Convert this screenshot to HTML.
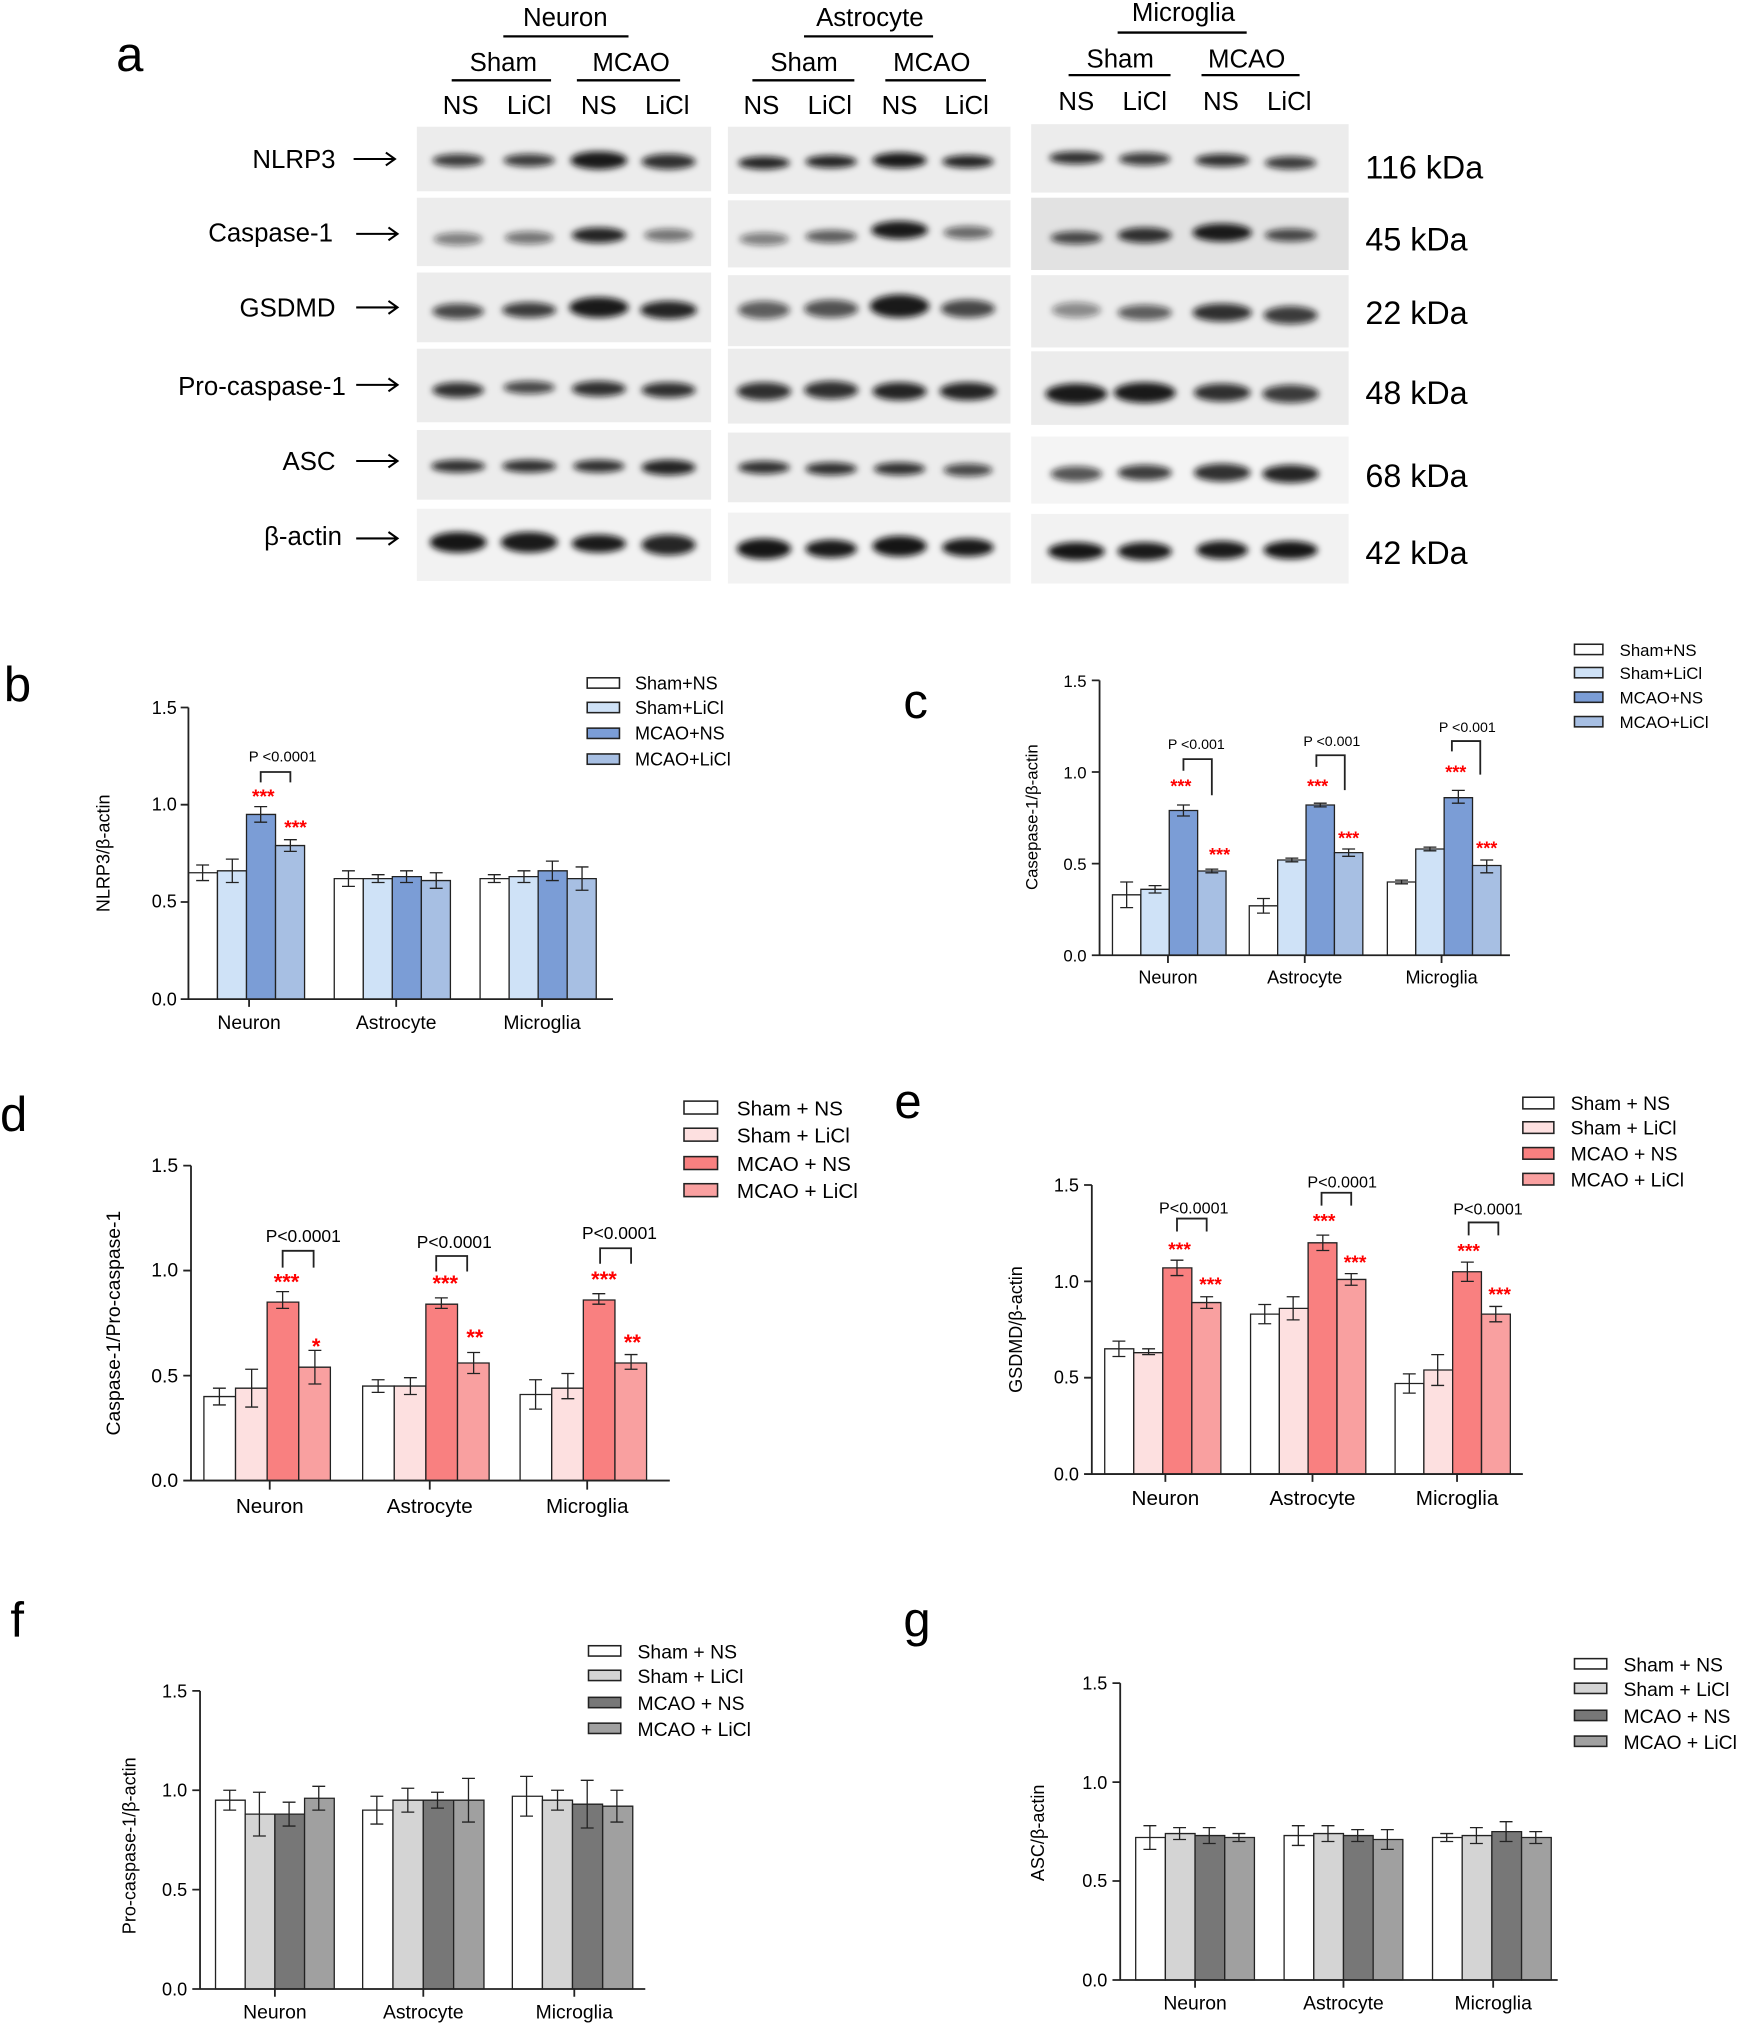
<!DOCTYPE html>
<html><head><meta charset="utf-8"><style>
html,body{margin:0;padding:0;background:#fff}
svg{display:block}
text{font-family:"Liberation Sans",Arial,sans-serif;fill:#000}
.b rect{stroke:#222;vector-effect:non-scaling-stroke;stroke-width:1.3}
.b path{stroke:#222;fill:none;vector-effect:non-scaling-stroke;stroke-width:1.3}
.ax{stroke:#222;stroke-width:1.4;fill:none}
.st, .st text{fill:#f00;font-weight:bold}
.lg rect{stroke:#222;stroke-width:1.2}
.arr{stroke:#000;stroke-width:1.6;fill:none}
</style></head><body>
<svg width="1750" height="2028" viewBox="0 0 1356 1571" xmlns="http://www.w3.org/2000/svg">
<defs><filter id="bl" x="-50%" y="-100%" width="200%" height="300%"><feGaussianBlur stdDeviation="2.5"/></filter></defs>
<rect width="1356" height="1571" fill="#fff"/>
<!-- Panel a -->
<text x="90" y="55" font-size="38">a</text>
<g font-size="20" text-anchor="middle">
<text x="438" y="20">Neuron</text><text x="674" y="20">Astrocyte</text><text x="917" y="16">Microglia</text>
<text x="390" y="55">Sham</text><text x="489" y="55">MCAO</text>
<text x="623" y="55">Sham</text><text x="722" y="55">MCAO</text>
<text x="868" y="52">Sham</text><text x="966" y="52">MCAO</text>
<text x="357" y="88">NS</text><text x="410" y="88">LiCl</text><text x="464" y="88">NS</text><text x="517" y="88">LiCl</text>
<text x="590" y="88">NS</text><text x="643" y="88">LiCl</text><text x="697" y="88">NS</text><text x="749" y="88">LiCl</text>
<text x="834" y="85">NS</text><text x="887" y="85">LiCl</text><text x="946" y="85">NS</text><text x="999" y="85">LiCl</text>
</g>
<g stroke="#000" stroke-width="1.8">
<line x1="390" y1="28" x2="487" y2="28"/><line x1="623" y1="28" x2="723" y2="28"/><line x1="866" y1="25" x2="966" y2="25"/>
<line x1="350" y1="62" x2="427" y2="62"/><line x1="447" y1="62" x2="527" y2="62"/>
<line x1="583" y1="62" x2="662" y2="62"/><line x1="686" y1="62" x2="764" y2="62"/>
<line x1="828" y1="58" x2="907" y2="58"/><line x1="931" y1="58" x2="1007" y2="58"/>
</g>
<g fill="#ececec">
<rect x="323" y="98" width="228" height="50"/><rect x="323" y="153" width="228" height="53"/><rect x="323" y="211" width="228" height="54"/><rect x="323" y="270" width="228" height="57"/><rect x="323" y="333" width="228" height="54"/><rect x="323" y="394" width="228" height="56" fill="#f2f2f2"/>
<rect x="564" y="98" width="219" height="52"/><rect x="564" y="155" width="219" height="52"/><rect x="564" y="213" width="219" height="55"/><rect x="564" y="270" width="219" height="58"/><rect x="564" y="335" width="219" height="54"/><rect x="564" y="397" width="219" height="55" fill="#f2f2f2"/>
<rect x="799" y="96" width="246" height="53"/><rect x="799" y="153" width="246" height="56" fill="#e2e2e2"/><rect x="799" y="213" width="246" height="56"/><rect x="799" y="272" width="246" height="57"/><rect x="799" y="338" width="246" height="52" fill="#f4f4f4"/><rect x="799" y="398" width="246" height="54" fill="#f2f2f2"/>
</g>
<g fill="#111" filter="url(#bl)">
<ellipse cx="355" cy="124" rx="20" ry="5" opacity=".8"/><ellipse cx="410" cy="124" rx="20" ry="5" opacity=".8"/><ellipse cx="464" cy="124" rx="22" ry="7" opacity=".95"/><ellipse cx="518" cy="125" rx="21" ry="6" opacity=".85"/>
<ellipse cx="592" cy="126" rx="20" ry="5" opacity=".9"/><ellipse cx="644" cy="125" rx="20" ry="5" opacity=".9"/><ellipse cx="697" cy="124" rx="21" ry="6" opacity=".95"/><ellipse cx="750" cy="125" rx="20" ry="5" opacity=".9"/>
<ellipse cx="834" cy="122" rx="21" ry="5" opacity=".85"/><ellipse cx="887" cy="123" rx="20" ry="5" opacity=".8"/><ellipse cx="947" cy="124" rx="21" ry="5" opacity=".85"/><ellipse cx="1000" cy="126" rx="20" ry="5" opacity=".8"/>
<ellipse cx="355" cy="185" rx="19" ry="5" opacity=".5"/><ellipse cx="410" cy="184" rx="19" ry="5" opacity=".55"/><ellipse cx="464" cy="182" rx="21" ry="6" opacity=".9"/><ellipse cx="518" cy="182" rx="19" ry="5" opacity=".55"/>
<ellipse cx="592" cy="185" rx="19" ry="5" opacity=".5"/><ellipse cx="644" cy="183" rx="20" ry="5" opacity=".65"/><ellipse cx="697" cy="178" rx="22" ry="7" opacity=".95"/><ellipse cx="750" cy="180" rx="19" ry="5" opacity=".6"/>
<ellipse cx="834" cy="184" rx="20" ry="5" opacity=".75"/><ellipse cx="887" cy="182" rx="21" ry="6" opacity=".85"/><ellipse cx="947" cy="180" rx="23" ry="7" opacity=".95"/><ellipse cx="1000" cy="182" rx="20" ry="5" opacity=".75"/>
<ellipse cx="355" cy="241" rx="20" ry="6" opacity=".75"/><ellipse cx="410" cy="240" rx="21" ry="6" opacity=".8"/><ellipse cx="464" cy="238" rx="23" ry="8" opacity=".95"/><ellipse cx="518" cy="240" rx="22" ry="7" opacity=".9"/>
<ellipse cx="592" cy="240" rx="20" ry="7" opacity=".65"/><ellipse cx="644" cy="239" rx="21" ry="7" opacity=".7"/><ellipse cx="697" cy="237" rx="23" ry="9" opacity=".95"/><ellipse cx="750" cy="239" rx="21" ry="7" opacity=".75"/>
<ellipse cx="834" cy="240" rx="19" ry="6" opacity=".45"/><ellipse cx="887" cy="242" rx="21" ry="6" opacity=".65"/><ellipse cx="947" cy="242" rx="23" ry="7" opacity=".85"/><ellipse cx="1000" cy="244" rx="21" ry="7" opacity=".8"/>
<ellipse cx="355" cy="302" rx="20" ry="6" opacity=".85"/><ellipse cx="410" cy="300" rx="20" ry="5" opacity=".75"/><ellipse cx="464" cy="301" rx="21" ry="6" opacity=".85"/><ellipse cx="518" cy="302" rx="21" ry="6" opacity=".85"/>
<ellipse cx="592" cy="303" rx="21" ry="7" opacity=".85"/><ellipse cx="644" cy="302" rx="21" ry="7" opacity=".85"/><ellipse cx="697" cy="303" rx="21" ry="7" opacity=".9"/><ellipse cx="750" cy="303" rx="22" ry="7" opacity=".9"/>
<ellipse cx="834" cy="305" rx="24" ry="8" opacity=".95"/><ellipse cx="887" cy="304" rx="24" ry="8" opacity=".95"/><ellipse cx="947" cy="304" rx="22" ry="7" opacity=".85"/><ellipse cx="1000" cy="305" rx="22" ry="7" opacity=".8"/>
<ellipse cx="355" cy="361" rx="21" ry="5" opacity=".85"/><ellipse cx="410" cy="361" rx="21" ry="5" opacity=".85"/><ellipse cx="464" cy="361" rx="20" ry="5" opacity=".85"/><ellipse cx="518" cy="362" rx="21" ry="6" opacity=".9"/>
<ellipse cx="592" cy="362" rx="20" ry="5" opacity=".85"/><ellipse cx="644" cy="363" rx="20" ry="5" opacity=".85"/><ellipse cx="697" cy="363" rx="20" ry="5" opacity=".85"/><ellipse cx="750" cy="364" rx="19" ry="5" opacity=".75"/>
<ellipse cx="834" cy="367" rx="20" ry="6" opacity=".7"/><ellipse cx="887" cy="366" rx="21" ry="6" opacity=".8"/><ellipse cx="947" cy="366" rx="22" ry="7" opacity=".85"/><ellipse cx="1000" cy="367" rx="22" ry="7" opacity=".9"/>
<ellipse cx="355" cy="420" rx="22" ry="8" opacity=".97"/><ellipse cx="410" cy="420" rx="22" ry="8" opacity=".95"/><ellipse cx="464" cy="421" rx="21" ry="7" opacity=".95"/><ellipse cx="518" cy="422" rx="21" ry="8" opacity=".9"/>
<ellipse cx="592" cy="425" rx="21" ry="8" opacity=".97"/><ellipse cx="644" cy="425" rx="20" ry="7" opacity=".95"/><ellipse cx="697" cy="423" rx="21" ry="8" opacity=".97"/><ellipse cx="750" cy="424" rx="20" ry="7" opacity=".95"/>
<ellipse cx="834" cy="427" rx="22" ry="7" opacity=".97"/><ellipse cx="887" cy="427" rx="21" ry="7" opacity=".95"/><ellipse cx="947" cy="426" rx="20" ry="7" opacity=".95"/><ellipse cx="1000" cy="426" rx="21" ry="7" opacity=".97"/>
</g>
<g font-size="20" text-anchor="end">
<text x="260" y="130">NLRP3</text><text x="258" y="187">Caspase-1</text><text x="260" y="245">GSDMD</text><text x="268" y="306">Pro-caspase-1</text><text x="260" y="364">ASC</text><text x="265" y="422">β-actin</text>
</g>
<path class="arr" d="M274 123H306M299 118L306 123L299 128 M276 181H308M301 176L308 181L301 186 M276 238H308M301 233L308 238L301 243 M276 298H308M301 293L308 298L301 303 M276 357H308M301 352L308 357L301 362 M276 417H308M301 412L308 417L301 422"/>
<g font-size="25"><text x="1058" y="138">116 kDa</text><text x="1058" y="194">45 kDa</text><text x="1058" y="251">22 kDa</text><text x="1058" y="313">48 kDa</text><text x="1058" y="377">68 kDa</text><text x="1058" y="437">42 kDa</text></g>

<!-- Panel b -->
<text x="3" y="543" font-size="38">b</text>
<g class="b" transform="translate(0,774) scale(1,-150.67)">
<rect x="146" y="0" width="22.5" height=".65" fill="#fff"/><rect x="168.5" y="0" width="22.5" height=".66" fill="#cfe2f7"/><rect x="191" y="0" width="22.5" height=".95" fill="#7b9dd6"/><rect x="213.5" y="0" width="22.5" height=".79" fill="#a7bfe3"/>
<rect x="259" y="0" width="22.5" height=".62" fill="#fff"/><rect x="281.5" y="0" width="22.5" height=".62" fill="#cfe2f7"/><rect x="304" y="0" width="22.5" height=".63" fill="#7b9dd6"/><rect x="326.5" y="0" width="22.5" height=".61" fill="#a7bfe3"/>
<rect x="372" y="0" width="22.5" height=".62" fill="#fff"/><rect x="394.5" y="0" width="22.5" height=".63" fill="#cfe2f7"/><rect x="417" y="0" width="22.5" height=".66" fill="#7b9dd6"/><rect x="439.5" y="0" width="22.5" height=".62" fill="#a7bfe3"/>
<path d="M157 .61V.69M152 .69H162M152 .61H162 M180 .60V.72M175 .72H185M175 .60H185 M202 .91V.99M197 .99H207M197 .91H207 M225 .76V.82M220 .82H230M220 .76H230"/>
<path d="M270 .58V.66M265 .66H275M265 .58H275 M293 .60V.64M288 .64H298M288 .60H298 M315 .60V.66M310 .66H320M310 .60H320 M338 .57V.65M333 .65H343M333 .57H343"/>
<path d="M383 .60V.64M378 .64H388M378 .60H388 M406 .60V.66M401 .66H411M401 .60H411 M428 .61V.71M423 .71H433M423 .61H433 M451 .56V.68M446 .68H456M446 .56H456"/>
</g>
<path class="ax" d="M146 548V774H475 M140 548H146M140 623.3H146M140 698.7H146M140 774H146 M193 774v6M307 774v6M420 774v6"/>
<g font-size="14" text-anchor="end"><text x="137" y="553">1.5</text><text x="137" y="628">1.0</text><text x="137" y="703">0.5</text><text x="137" y="779">0.0</text></g>
<text transform="translate(85,661) rotate(-90)" font-size="14" text-anchor="middle">NLRP3/β-actin</text>
<g font-size="15" text-anchor="middle"><text x="193" y="797">Neuron</text><text x="307" y="797">Astrocyte</text><text x="420" y="797">Microglia</text></g>
<text x="219" y="590" font-size="11.5" text-anchor="middle">P &lt;0.0001</text>
<path class="ax" d="M202 606V598H225V606" stroke-width="1.2"/>
<g class="st" text-anchor="middle" font-size="15"><text x="204" y="622">***</text><text x="229" y="646">***</text></g>
<g class="lg" font-size="14"><rect x="455" y="525" width="25" height="8" fill="#fff"/><rect x="455" y="544" width="25" height="8" fill="#cfe2f7"/><rect x="455" y="564" width="25" height="8" fill="#7b9dd6"/><rect x="455" y="584" width="25" height="8" fill="#a7bfe3"/>
<text x="492" y="534">Sham+NS</text><text x="492" y="553">Sham+LiCl</text><text x="492" y="573">MCAO+NS</text><text x="492" y="593">MCAO+LiCl</text></g>

<!-- Panel c -->
<text x="700" y="556" font-size="38">c</text>
<g class="b" transform="translate(0,740) scale(1,-142)">
<rect x="862" y="0" width="22" height=".33" fill="#fff"/><rect x="884" y="0" width="22" height=".36" fill="#cfe2f7"/><rect x="906" y="0" width="22" height=".79" fill="#7b9dd6"/><rect x="928" y="0" width="22" height=".46" fill="#a7bfe3"/>
<rect x="968" y="0" width="22" height=".27" fill="#fff"/><rect x="990" y="0" width="22" height=".52" fill="#cfe2f7"/><rect x="1012" y="0" width="22" height=".82" fill="#7b9dd6"/><rect x="1034" y="0" width="22" height=".56" fill="#a7bfe3"/>
<rect x="1075" y="0" width="22" height=".40" fill="#fff"/><rect x="1097" y="0" width="22" height=".58" fill="#cfe2f7"/><rect x="1119" y="0" width="22" height=".86" fill="#7b9dd6"/><rect x="1141" y="0" width="22" height=".49" fill="#a7bfe3"/>
<path d="M873 .26V.40M868 .40H878M868 .26H878 M895 .34V.38M890 .38H900M890 .34H900 M917 .76V.82M912 .82H922M912 .76H922 M939 .45V.47M934 .47H944M934 .45H944"/>
<path d="M979 .23V.31M974 .31H984M974 .23H984 M1001 .51V.53M996 .53H1006M996 .51H1006 M1023 .81V.83M1018 .83H1028M1018 .81H1028 M1045 .54V.58M1040 .58H1050M1040 .54H1050"/>
<path d="M1086 .39V.41M1081 .41H1091M1081 .39H1091 M1108 .57V.59M1103 .59H1113M1103 .57H1113 M1130 .83V.90M1125 .90H1135M1125 .83H1135 M1152 .45V.52M1147 .52H1157M1147 .45H1157"/>
</g>
<path class="ax" d="M852 527V740H1170 M846 527H852M846 598H852M846 669H852M846 740H852 M905 740v6M1011 740v6M1117 740v6"/>
<g font-size="13" text-anchor="end"><text x="842" y="532">1.5</text><text x="842" y="603">1.0</text><text x="842" y="674">0.5</text><text x="842" y="745">0.0</text></g>
<text transform="translate(804,633) rotate(-90)" font-size="13" text-anchor="middle">Casepase-1/β-actin</text>
<g font-size="14" text-anchor="middle"><text x="905" y="762">Neuron</text><text x="1011" y="762">Astrocyte</text><text x="1117" y="762">Microglia</text></g>
<g font-size="11" text-anchor="middle"><text x="927" y="580">P &lt;0.001</text><text x="1032" y="578">P &lt;0.001</text><text x="1137" y="567">P &lt;0.001</text></g>
<path class="ax" stroke-width="1.2" d="M917 597V588H939V616 M1020 594V585H1042V612 M1125 582V574H1147V600"/>
<g class="st" text-anchor="middle" font-size="14"><text x="915" y="614">***</text><text x="945" y="667">***</text><text x="1021" y="614">***</text><text x="1045" y="654">***</text><text x="1128" y="603">***</text><text x="1152" y="662">***</text></g>
<g class="lg" font-size="13"><rect x="1220" y="499" width="22" height="8" fill="#fff"/><rect x="1220" y="517" width="22" height="8" fill="#cfe2f7"/><rect x="1220" y="536" width="22" height="8" fill="#7b9dd6"/><rect x="1220" y="555" width="22" height="8" fill="#a7bfe3"/>
<text x="1255" y="508">Sham+NS</text><text x="1255" y="526">Sham+LiCl</text><text x="1255" y="545">MCAO+NS</text><text x="1255" y="564">MCAO+LiCl</text></g>

<!-- Panel d -->
<text x="0" y="876" font-size="38">d</text>
<g class="b" transform="translate(0,1147) scale(1,-162.67)">
<rect x="158" y="0" width="24.5" height=".40" fill="#fff"/><rect x="182.5" y="0" width="24.5" height=".44" fill="#fde0e0"/><rect x="207" y="0" width="24.5" height=".85" fill="#f98080"/><rect x="231.5" y="0" width="24.5" height=".54" fill="#f9a0a0"/>
<rect x="281" y="0" width="24.5" height=".45" fill="#fff"/><rect x="305.5" y="0" width="24.5" height=".45" fill="#fde0e0"/><rect x="330" y="0" width="24.5" height=".84" fill="#f98080"/><rect x="354.5" y="0" width="24.5" height=".56" fill="#f9a0a0"/>
<rect x="403" y="0" width="24.5" height=".41" fill="#fff"/><rect x="427.5" y="0" width="24.5" height=".44" fill="#fde0e0"/><rect x="452" y="0" width="24.5" height=".86" fill="#f98080"/><rect x="476.5" y="0" width="24.5" height=".56" fill="#f9a0a0"/>
<path d="M170 .36V.44M165 .44H175M165 .36H175 M195 .35V.53M190 .53H200M190 .35H200 M219 .82V.90M214 .90H224M214 .82H224 M244 .46V.62M239 .62H249M239 .46H249"/>
<path d="M293 .42V.48M288 .48H298M288 .42H298 M318 .41V.49M313 .49H323M313 .41H323 M342 .82V.87M337 .87H347M337 .82H347 M367 .51V.61M362 .61H372M362 .51H372"/>
<path d="M415 .34V.48M410 .48H420M410 .34H420 M440 .39V.51M435 .51H445M435 .39H445 M464 .84V.89M459 .89H469M459 .84H469 M489 .53V.60M484 .60H494M484 .53H494"/>
</g>
<path class="ax" d="M148 903V1147H519 M142 903H148M142 984.3H148M142 1065.7H148M142 1147H148 M209 1147v7M333 1147v7M455 1147v7"/>
<g font-size="15" text-anchor="end"><text x="138" y="908">1.5</text><text x="138" y="989">1.0</text><text x="138" y="1071">0.5</text><text x="138" y="1152">0.0</text></g>
<text transform="translate(93,1025) rotate(-90)" font-size="15" text-anchor="middle">Caspase-1/Pro-caspase-1</text>
<g font-size="16" text-anchor="middle"><text x="209" y="1172">Neuron</text><text x="333" y="1172">Astrocyte</text><text x="455" y="1172">Microglia</text></g>
<g font-size="13.5" text-anchor="middle"><text x="235" y="962">P&lt;0.0001</text><text x="352" y="967">P&lt;0.0001</text><text x="480" y="960">P&lt;0.0001</text></g>
<path class="ax" stroke-width="1.2" d="M219 982V969H243V982 M338 985V973H362V985 M465 979V967H489V979"/>
<g class="st" text-anchor="middle" font-size="17"><text x="222" y="999">***</text><text x="245" y="1049">*</text><text x="345" y="1000">***</text><text x="368" y="1042">**</text><text x="468" y="997">***</text><text x="490" y="1046">**</text></g>
<g class="lg" font-size="16"><rect x="530" y="853" width="26" height="10" fill="#fff"/><rect x="530" y="874" width="26" height="10" fill="#fde0e0"/><rect x="530" y="896" width="26" height="10" fill="#f98080"/><rect x="530" y="917" width="26" height="10" fill="#f9a0a0"/>
<text x="571" y="864">Sham + NS</text><text x="571" y="885">Sham + LiCl</text><text x="571" y="907">MCAO + NS</text><text x="571" y="928">MCAO + LiCl</text></g>

<!-- Panel e -->
<text x="693" y="866" font-size="38">e</text>
<g class="b" transform="translate(0,1142) scale(1,-149.33)">
<rect x="856" y="0" width="22.5" height=".65" fill="#fff"/><rect x="878.5" y="0" width="22.5" height=".63" fill="#fde0e0"/><rect x="901" y="0" width="22.5" height="1.07" fill="#f98080"/><rect x="923.5" y="0" width="22.5" height=".89" fill="#f9a0a0"/>
<rect x="969" y="0" width="22.3" height=".83" fill="#fff"/><rect x="991.3" y="0" width="22.3" height=".86" fill="#fde0e0"/><rect x="1013.6" y="0" width="22.3" height="1.20" fill="#f98080"/><rect x="1036" y="0" width="22.3" height="1.01" fill="#f9a0a0"/>
<rect x="1081" y="0" width="22.3" height=".47" fill="#fff"/><rect x="1103.3" y="0" width="22.3" height=".54" fill="#fde0e0"/><rect x="1125.6" y="0" width="22.3" height="1.05" fill="#f98080"/><rect x="1148" y="0" width="22.3" height=".83" fill="#f9a0a0"/>
<path d="M867 .61V.69M862 .69H872M862 .61H872 M890 .62V.65M885 .65H895M885 .62H895 M912 1.03V1.11M907 1.11H917M907 1.03H917 M935 .86V.92M930 .92H940M930 .86H940"/>
<path d="M980 .78V.88M975 .88H985M975 .78H985 M1002 .80V.92M997 .92H1007M997 .80H1007 M1025 1.16V1.24M1020 1.24H1030M1020 1.16H1030 M1047 .98V1.04M1042 1.04H1052M1042 .98H1052"/>
<path d="M1092 .42V.52M1087 .52H1097M1087 .42H1097 M1114 .46V.62M1109 .62H1119M1109 .46H1119 M1137 1.00V1.10M1132 1.10H1142M1132 1.00H1142 M1159 .79V.87M1154 .87H1164M1154 .79H1164"/>
</g>
<path class="ax" d="M846 918V1142H1180 M840 918H846M840 992.7H846M840 1067.3H846M840 1142H846 M903 1142v6M1017 1142v6M1129 1142v6"/>
<g font-size="14" text-anchor="end"><text x="836" y="923">1.5</text><text x="836" y="998">1.0</text><text x="836" y="1072">0.5</text><text x="836" y="1147">0.0</text></g>
<text transform="translate(792,1030) rotate(-90)" font-size="14" text-anchor="middle">GSDMD/β-actin</text>
<g font-size="16" text-anchor="middle"><text x="903" y="1166">Neuron</text><text x="1017" y="1166">Astrocyte</text><text x="1129" y="1166">Microglia</text></g>
<g font-size="12.5" text-anchor="middle"><text x="925" y="940">P&lt;0.0001</text><text x="1040" y="920">P&lt;0.0001</text><text x="1153" y="941">P&lt;0.0001</text></g>
<path class="ax" stroke-width="1.2" d="M912 954V944H935V954 M1024 934V924H1047V934 M1138 957V947H1161V957"/>
<g class="st" text-anchor="middle" font-size="15"><text x="914" y="973">***</text><text x="938" y="1000">***</text><text x="1026" y="951">***</text><text x="1050" y="983">***</text><text x="1138" y="974">***</text><text x="1162" y="1008">***</text></g>
<g class="lg" font-size="15"><rect x="1180" y="850" width="24" height="9" fill="#fff"/><rect x="1180" y="869" width="24" height="9" fill="#fde0e0"/><rect x="1180" y="889" width="24" height="9" fill="#f98080"/><rect x="1180" y="909" width="24" height="9" fill="#f9a0a0"/>
<text x="1217" y="860">Sham + NS</text><text x="1217" y="879">Sham + LiCl</text><text x="1217" y="899">MCAO + NS</text><text x="1217" y="919">MCAO + LiCl</text></g>

<!-- Panel f -->
<text x="8" y="1268" font-size="38">f</text>
<g class="b" transform="translate(0,1541) scale(1,-154)">
<rect x="167" y="0" width="23" height=".95" fill="#fff"/><rect x="190" y="0" width="23" height=".88" fill="#d4d4d4"/><rect x="213" y="0" width="23" height=".88" fill="#777"/><rect x="236" y="0" width="23" height=".96" fill="#a0a0a0"/>
<rect x="281" y="0" width="23.5" height=".90" fill="#fff"/><rect x="304.5" y="0" width="23.5" height=".95" fill="#d4d4d4"/><rect x="328" y="0" width="23.5" height=".95" fill="#777"/><rect x="351.5" y="0" width="23.5" height=".95" fill="#a0a0a0"/>
<rect x="397" y="0" width="23.3" height=".97" fill="#fff"/><rect x="420.3" y="0" width="23.3" height=".95" fill="#d4d4d4"/><rect x="443.6" y="0" width="23.3" height=".93" fill="#777"/><rect x="467" y="0" width="23.3" height=".92" fill="#a0a0a0"/>
<path d="M178 .90V1.00M173 1.00H183M173 .90H183 M201 .77V.99M196 .99H206M196 .77H206 M224 .82V.94M219 .94H229M219 .82H229 M247 .90V1.02M242 1.02H252M242 .90H252"/>
<path d="M292 .83V.97M287 .97H297M287 .83H297 M316 .89V1.01M311 1.01H321M311 .89H321 M339 .91V.99M334 .99H344M334 .91H344 M363 .84V1.06M358 1.06H368M358 .84H368"/>
<path d="M408 .87V1.07M403 1.07H413M403 .87H413 M432 .90V1.00M427 1.00H437M427 .90H437 M455 .81V1.05M450 1.05H460M450 .81H460 M478 .84V1.00M473 1.00H483M473 .84H483"/>
</g>
<path class="ax" d="M155 1310V1541H500 M149 1310H155M149 1387H155M149 1464H155M149 1541H155 M213 1541v6M328 1541v6M445 1541v6"/>
<g font-size="14" text-anchor="end"><text x="145" y="1315">1.5</text><text x="145" y="1392">1.0</text><text x="145" y="1469">0.5</text><text x="145" y="1546">0.0</text></g>
<text transform="translate(105,1430) rotate(-90)" font-size="14" text-anchor="middle">Pro-caspase-1/β-actin</text>
<g font-size="15" text-anchor="middle"><text x="213" y="1564">Neuron</text><text x="328" y="1564">Astrocyte</text><text x="445" y="1564">Microglia</text></g>
<g class="lg" font-size="15"><rect x="456" y="1275" width="25" height="8" fill="#fff"/><rect x="456" y="1294" width="25" height="8" fill="#d4d4d4"/><rect x="456" y="1315" width="25" height="8" fill="#777"/><rect x="456" y="1335" width="25" height="8" fill="#a0a0a0"/>
<text x="494" y="1285">Sham + NS</text><text x="494" y="1304">Sham + LiCl</text><text x="494" y="1325">MCAO + NS</text><text x="494" y="1345">MCAO + LiCl</text></g>

<!-- Panel g -->
<text x="700" y="1268" font-size="38">g</text>
<g class="b" transform="translate(0,1534) scale(1,-153.3)">
<rect x="880" y="0" width="23" height=".72" fill="#fff"/><rect x="903" y="0" width="23" height=".74" fill="#d4d4d4"/><rect x="926" y="0" width="23" height=".73" fill="#777"/><rect x="949" y="0" width="23" height=".72" fill="#a0a0a0"/>
<rect x="995" y="0" width="23" height=".73" fill="#fff"/><rect x="1018" y="0" width="23" height=".74" fill="#d4d4d4"/><rect x="1041" y="0" width="23" height=".73" fill="#777"/><rect x="1064" y="0" width="23" height=".71" fill="#a0a0a0"/>
<rect x="1110" y="0" width="23" height=".72" fill="#fff"/><rect x="1133" y="0" width="23" height=".73" fill="#d4d4d4"/><rect x="1156" y="0" width="23" height=".75" fill="#777"/><rect x="1179" y="0" width="23" height=".72" fill="#a0a0a0"/>
<path d="M891 .66V.78M886 .78H896M886 .66H896 M914 .71V.77M909 .77H919M909 .71H919 M937 .69V.77M932 .77H942M932 .69H942 M960 .70V.74M955 .74H965M955 .70H965"/>
<path d="M1006 .68V.78M1001 .78H1011M1001 .68H1011 M1029 .70V.78M1024 .78H1034M1024 .70H1034 M1052 .70V.76M1047 .76H1057M1047 .70H1057 M1075 .66V.76M1070 .76H1080M1070 .66H1080"/>
<path d="M1121 .70V.74M1116 .74H1126M1116 .70H1126 M1144 .69V.77M1139 .77H1149M1139 .69H1149 M1167 .70V.80M1162 .80H1172M1162 .70H1172 M1190 .69V.75M1185 .75H1195M1185 .69H1195"/>
</g>
<path class="ax" d="M868 1304V1534H1207 M862 1304H868M862 1380.7H868M862 1457.3H868M862 1534H868 M926 1534v6M1041 1534v6M1157 1534v6"/>
<g font-size="14" text-anchor="end"><text x="858" y="1309">1.5</text><text x="858" y="1386">1.0</text><text x="858" y="1462">0.5</text><text x="858" y="1539">0.0</text></g>
<text transform="translate(809,1420) rotate(-90)" font-size="14" text-anchor="middle">ASC/β-actin</text>
<g font-size="15" text-anchor="middle"><text x="926" y="1557">Neuron</text><text x="1041" y="1557">Astrocyte</text><text x="1157" y="1557">Microglia</text></g>
<g class="lg" font-size="15"><rect x="1220" y="1285" width="25" height="8" fill="#fff"/><rect x="1220" y="1304" width="25" height="8" fill="#d4d4d4"/><rect x="1220" y="1325" width="25" height="8" fill="#777"/><rect x="1220" y="1345" width="25" height="8" fill="#a0a0a0"/>
<text x="1258" y="1295">Sham + NS</text><text x="1258" y="1314">Sham + LiCl</text><text x="1258" y="1335">MCAO + NS</text><text x="1258" y="1355">MCAO + LiCl</text></g>
</svg>
</body></html>
